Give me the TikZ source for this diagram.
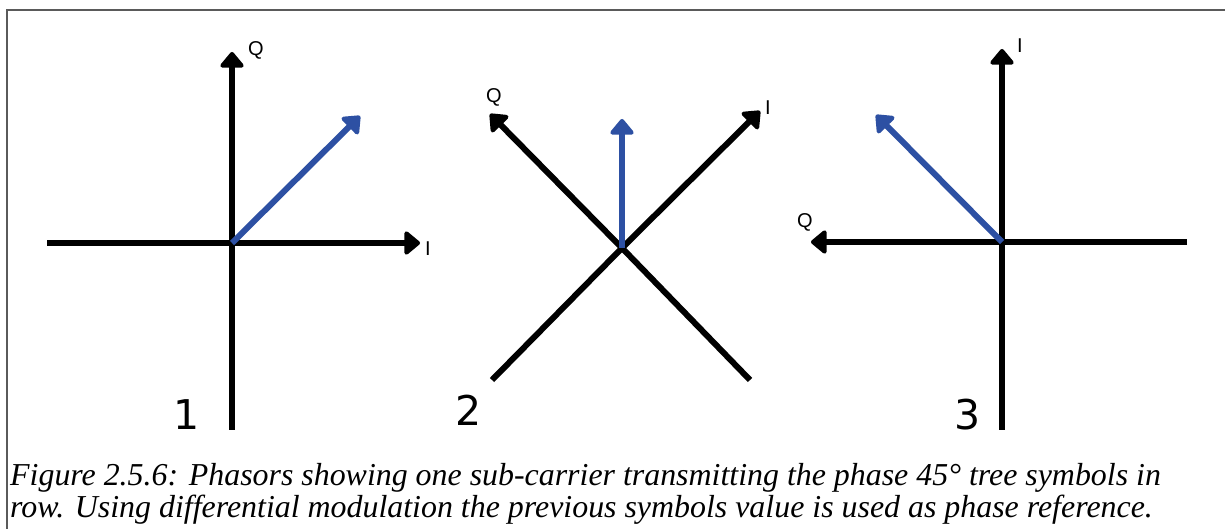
\documentclass[tikz,border=0pt]{standalone}
\usepackage{fontspec}
\setmainfont{Liberation Serif}
\newfontfamily\labfont{Liberation Sans}
\newfontfamily\numfont{DejaVu Sans}
\usetikzlibrary{arrows.meta}
\definecolor{phasor}{RGB}{45,80,163}
\definecolor{framegray}{RGB}{90,90,90}
\tikzset{
  tipstyle/.style={-{Triangle[length=17pt,width=27pt,round]}},
  axis/.style={line width=6pt, black, tipstyle},
  axisplain/.style={line width=6pt, black},
  vec/.style={line width=6pt, phasor, tipstyle},
  lab/.style={font=\labfont\fontsize{20}{22}\selectfont, inner sep=0pt},
  num/.style={font=\numfont\fontsize{41}{45}\selectfont, inner sep=0pt},
  captext/.style={font=\itshape\fontsize{31.9}{34}\selectfont, inner sep=0pt, anchor=base west},
  frameline/.style={line width=1.5pt, framegray}
}
\begin{document}
\begin{tikzpicture}[x=1pt,y=-1pt]
\useasboundingbox (0,0) rectangle (1225,529);
\fill[white] (0,0) rectangle (1225,529);
% frame
\coordinate (ftl) at (7,10);
\coordinate (ftr) at (1225,10);
\coordinate (fbl) at (7,529);
\draw[frameline] (ftr) -- (ftl) -- (fbl);

% ---- panel 1
\coordinate (c1) at (232,243);
\coordinate (c1top) at (232,52);
\coordinate (c1bot) at (232,430);
\coordinate (c1left) at (47,243);
\coordinate (c1right) at (420,243);
\coordinate (c1v) at (360,116);
\draw[axisplain] (c1) -- (c1bot);
\draw[axis] (c1) -- (c1top);
\draw[axisplain] (c1left) -- (c1);
\draw[axis] (c1) -- (c1right);
\draw[vec] (c1) -- (c1v);
\node[lab] (q1) at (256,50) {Q};
\node[lab] (i1) at (428,249) {I};
\node[num] (n1) at (187,415) {1};

% ---- panel 2
\coordinate (c2) at (622,248);
\coordinate (c2q) at (490,114);
\coordinate (c2i) at (760,111);
\coordinate (c2bl) at (492,380);
\coordinate (c2br) at (750,380);
\coordinate (c2v) at (622,119);
\draw[axisplain] (c2bl) -- (c2);
\draw[axis] (c2) -- (c2i);
\draw[axisplain] (c2br) -- (c2);
\draw[axis] (c2) -- (c2q);
\draw[vec] (c2) -- (c2v);
\node[lab] (q2) at (494,97) {Q};
\node[lab] (i2) at (768,108) {I};
\node[num] (n2) at (469,410) {2};

% ---- panel 3
\coordinate (c3) at (1002,242);
\coordinate (c3top) at (1002,49);
\coordinate (c3bot) at (1002,430);
\coordinate (c3left) at (811,242);
\coordinate (c3right) at (1187,242);
\coordinate (c3v) at (876,115);
\draw[axisplain] (c3) -- (c3bot);
\draw[axis] (c3) -- (c3top);
\draw[axisplain] (c3right) -- (c3);
\draw[axis] (c3) -- (c3left);
\draw[vec] (c3) -- (c3v);
\node[lab] (i3) at (1020,46) {I};
\node[lab] (q3) at (805,222) {Q};
\node[num] (n3) at (968,415) {3};

% ---- caption
\node[captext] (cap1) at (10,485) {Figure 2.5.6: Phasors showing one sub-carrier transmitting the phase 45° tree symbols in};
\node[captext] (cap2) at (10,517) {row. Using differential modulation the previous symbols value is used as phase reference.};
\end{tikzpicture}
\end{document}
